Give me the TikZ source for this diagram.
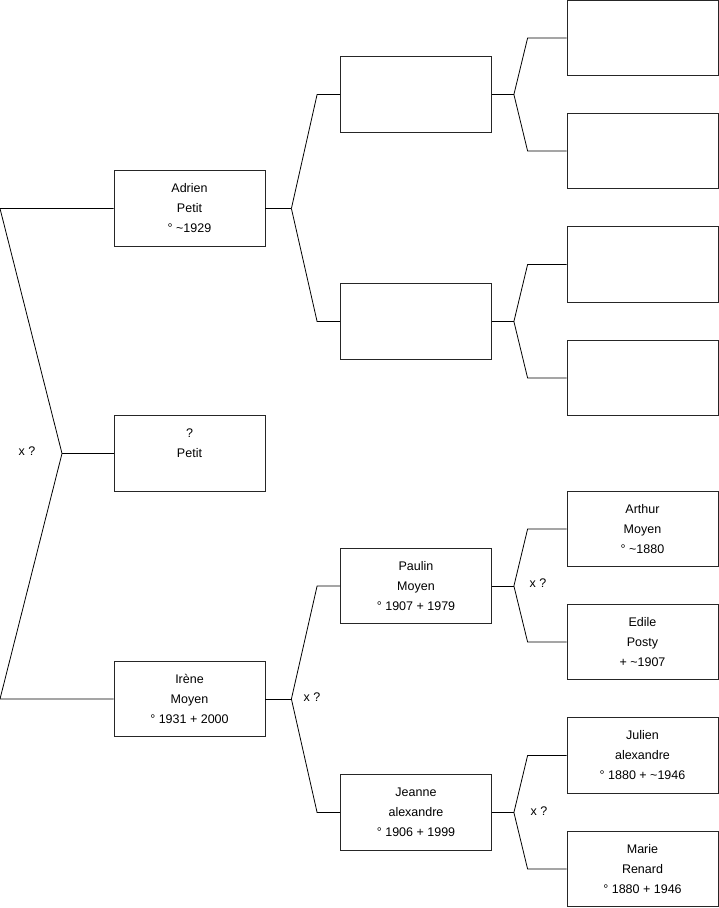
\documentclass[tikz,border=0pt]{standalone}
\usepackage{fontspec}
\setmainfont{Liberation Sans}
\begin{document}
\begin{tikzpicture}[x=1pt,y=-1pt,
  person/.style={draw=black!85, line width=0.8pt, minimum width=151pt, minimum height=75.5pt,
                 inner sep=0pt, align=center, font=\fontsize{12.5}{20}\selectfont},
  link/.style={draw=black, line width=0.8pt},
  lab/.style={font=\fontsize{12.5}{15}\selectfont, inner sep=0pt}]
\useasboundingbox (0,0) rectangle (719,908);
% generation 1
\node[person] (adrien) at (189.5,208.5) {Adrien\\Petit\\° \textasciitilde1929};
\node[person] (petit)  at (189.5,453.5) {?\\Petit\\\mbox{}};
\node[person] (irene)  at (189.5,699)   {Irène\\Moyen\\° 1931 + 2000};
% generation 2
\node[person] (pa) at (416,94.5) {};
\node[person] (pb) at (416,321.5) {};
\node[person] (paulin) at (416,586) {Paulin\\Moyen\\° 1907 + 1979};
\node[person] (jeanne) at (416,812.5) {Jeanne\\alexandre\\° 1906 + 1999};
% generation 3
\node[person] (c1) at (642.5,38) {};
\node[person] (c2) at (642.5,151) {};
\node[person] (c3) at (642.5,264.5) {};
\node[person] (c4) at (642.5,378) {};
\node[person] (arthur) at (642.5,529) {Arthur\\Moyen\\° \textasciitilde1880};
\node[person] (edile)  at (642.5,642) {Edile\\Posty\\+ \textasciitilde1907};
\node[person] (julien) at (642.5,755.5) {Julien\\alexandre\\° 1880 + \textasciitilde1946};
\node[person] (marie)  at (642.5,869) {Marie\\Renard\\° 1880 + 1946};
% left fork
\coordinate (L1) at (0,208.5);
\coordinate (F0) at (62,453.5);
\coordinate (L3) at (0,699);
\draw[link] (adrien.west) -- (L1) -- (F0) -- (L3) -- (irene.west);
\draw[link] (F0) -- (petit.west);
\node[lab] (x0) at (27,451) {x ?};
% forks gen1 -> gen2
\coordinate (F1) at ([xshift=26pt]adrien.east);
\draw[link] (adrien.east) -- (F1);
\draw[link] (F1) -- ([xshift=-23pt]pa.west) -- (pa.west);
\draw[link] (F1) -- ([xshift=-23pt]pb.west) -- (pb.west);
\coordinate (F2) at ([xshift=26pt]irene.east);
\draw[link] (irene.east) -- (F2);
\draw[link] (F2) -- ([xshift=-23pt]paulin.west) -- (paulin.west);
\draw[link] (F2) -- ([xshift=-23pt]jeanne.west) -- (jeanne.west);
\node[lab] (x1) at (312,697) {x ?};
% forks gen2 -> gen3
\coordinate (F3) at ([xshift=22pt]pa.east);
\draw[link] (pa.east) -- (F3);
\draw[link] (F3) -- ([xshift=-39pt]c1.west) -- (c1.west);
\draw[link] (F3) -- ([xshift=-39pt]c2.west) -- (c2.west);
\coordinate (F4) at ([xshift=22pt]pb.east);
\draw[link] (pb.east) -- (F4);
\draw[link] (F4) -- ([xshift=-39pt]c3.west) -- (c3.west);
\draw[link] (F4) -- ([xshift=-39pt]c4.west) -- (c4.west);
\coordinate (F5) at ([xshift=22pt]paulin.east);
\draw[link] (paulin.east) -- (F5);
\draw[link] (F5) -- ([xshift=-39pt]arthur.west) -- (arthur.west);
\draw[link] (F5) -- ([xshift=-39pt]edile.west) -- (edile.west);
\node[lab] (x2) at (538,583) {x ?};
\coordinate (F6) at ([xshift=22pt]jeanne.east);
\draw[link] (jeanne.east) -- (F6);
\draw[link] (F6) -- ([xshift=-39pt]julien.west) -- (julien.west);
\draw[link] (F6) -- ([xshift=-39pt]marie.west) -- (marie.west);
\node[lab] (x3) at (539,811) {x ?};
\end{tikzpicture}
\end{document}
